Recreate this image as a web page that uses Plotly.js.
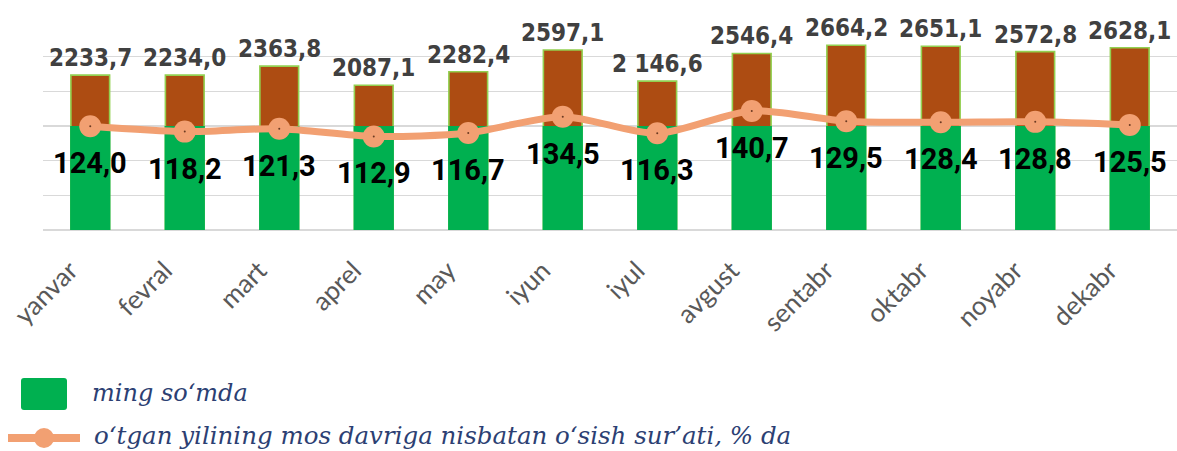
<!DOCTYPE html>
<html>
<head>
<meta charset="utf-8">
<script src="https://cdn.plot.ly/plotly-3.0.1.min.js"></script>
<style>
  html, body { margin: 0; padding: 0; background: #ffffff; }
  #chart { width: 1177px; height: 451px; }
</style>
</head>
<body>
<div id="chart"></div>
<script>
// ---- data ----
const months = ['yanvar', 'fevral', 'mart', 'aprel', 'may', 'iyun', 'iyul', 'avgust', 'sentabr', 'oktabr', 'noyabr', 'dekabr'];
const wageValues = [2233.7, 2234.0, 2363.8, 2087.1, 2282.4, 2597.1, 2146.6, 2546.4, 2664.2, 2651.1, 2572.8, 2628.1];
const wageLabels = ['2233,7', '2234,0', '2363,8', '2087,1', '2282,4', '2597,1', '2 146,6', '2546,4', '2664,2', '2651,1', '2572,8', '2628,1'];
const growthValues = [124.0, 118.2, 121.3, 112.9, 116.7, 134.5, 116.3, 140.7, 129.5, 128.4, 128.8, 125.5];
const growthLabels = ['124,0', '118,2', '121,3', '112,9', '116,7', '134,5', '116,3', '140,7', '129,5', '128,4', '128,8', '125,5'];
const seriesNames = ['ming so‘mda', 'o‘tgan yilining mos davriga nisbatan o‘sish sur’ati, % da'];

// ---- style ----
const GREEN = '#00B050';
const BROWN = '#AD4C12';
const OUTLINE = '#92D050';
const SALMON = '#F2A072';
const LEGEND_BLUE = '#2C3F73';
const fillSplit = 1500; // two-tone fill: green below this level, brown above
const barWidth = 0.41;

const traces = [
  {
    type: 'bar', x: months, y: wageValues, name: seriesNames[0],
    width: barWidth,
    marker: { color: BROWN, line: { color: OUTLINE, width: 1.6 } },
    hoverinfo: 'x+y', showlegend: false
  },
  {
    type: 'bar', x: months, y: wageValues.map(v => Math.min(v, fillSplit)),
    width: barWidth + 0.016,
    marker: { color: GREEN, line: { width: 0 } },
    hoverinfo: 'skip', showlegend: false
  },
  {
    type: 'scatter', mode: 'lines+markers', x: months, y: growthValues, yaxis: 'y2',
    name: seriesNames[1],
    line: { color: SALMON, width: 7, shape: 'spline', smoothing: 0.8 },
    marker: { color: SALMON, size: 22 },
    showlegend: false
  },
  {
    type: 'scatter', mode: 'markers', x: months, y: growthValues, yaxis: 'y2',
    marker: { color: '#6B3A22', size: 2 },
    hoverinfo: 'skip', showlegend: false
  }
];

const annotations = [];
months.forEach((m, i) => {
  annotations.push({
    x: m, y: wageValues[i], xref: 'x', yref: 'y',
    text: wageLabels[i], showarrow: false,
    yanchor: 'middle', yshift: 17,
    font: { family: 'DejaVu Sans Condensed', size: 24, color: '#404040', weight: 700 }
  });
  annotations.push({
    x: m, y: growthValues[i], xref: 'x', yref: 'y2',
    text: growthLabels[i], showarrow: false,
    yanchor: 'middle', yshift: -37,
    font: { family: 'Roboto', size: 29, color: '#000000', weight: 700 }
  });
});

// custom legend (text)
annotations.push({
  xref: 'paper', yref: 'paper', x: 0, y: 0, xanchor: 'left', yanchor: 'middle',
  xshift: 47, yshift: -163, showarrow: false, text: seriesNames[0],
  font: { family: 'DejaVu Serif', size: 24, color: LEGEND_BLUE, style: 'italic' }
});
annotations.push({
  xref: 'paper', yref: 'paper', x: 0, y: 0, xanchor: 'left', yanchor: 'middle',
  xshift: 49, yshift: -205, showarrow: false, text: seriesNames[1],
  font: { family: 'DejaVu Serif', size: 24.5, color: LEGEND_BLUE, style: 'italic' }
});

// custom legend (symbols), pixel offsets from the plot's bottom-left corner
const shapes = [
  { type: 'path', xref: 'paper', yref: 'paper', xsizemode: 'pixel', ysizemode: 'pixel',
    xanchor: 0, yanchor: 0,
    path: 'M -19 -180 L 21 -180 Q 24 -180 24 -177 L 24 -151 Q 24 -148 21 -148 L -19 -148 Q -22 -148 -22 -151 L -22 -177 Q -22 -180 -19 -180 Z',
    fillcolor: GREEN, line: { width: 0 } },
  { type: 'line', xref: 'paper', yref: 'paper', xsizemode: 'pixel', ysizemode: 'pixel',
    xanchor: 0, yanchor: 0, x0: -35, x1: 37, y0: -208, y1: -208,
    line: { color: SALMON, width: 8 } },
  { type: 'circle', xref: 'paper', yref: 'paper', xsizemode: 'pixel', ysizemode: 'pixel',
    xanchor: 0, yanchor: 0, x0: -9, x1: 11, y0: -218, y1: -198,
    fillcolor: SALMON, line: { width: 0 } }
];

const layout = {
  width: 1177, height: 451,
  margin: { l: 43, r: 0, t: 22, b: 221 },
  paper_bgcolor: '#ffffff', plot_bgcolor: '#ffffff',
  barmode: 'overlay',
  showlegend: false,
  xaxis: {
    type: 'category', range: [-0.5, 11.5],
    tickangle: -45, ticks: 'outside', ticklen: 14, tickcolor: 'rgba(0,0,0,0)',
    ticklabelshift: -20,
    showgrid: false, zeroline: false, showline: false,
    tickfont: { family: 'Lato', size: 26, color: '#595959' },
    fixedrange: true
  },
  yaxis: {
    range: [0, 3000], dtick: 500, showticklabels: false, ticks: '',
    showgrid: true, gridcolor: '#D9D9D9', gridwidth: 1.6,
    zeroline: true, zerolinecolor: '#D9D9D9', zerolinewidth: 2.2,
    showline: false, fixedrange: true
  },
  yaxis2: {
    overlaying: 'y', side: 'right', range: [11, 237.6],
    showticklabels: false, showgrid: false, zeroline: false, ticks: '', showline: false,
    fixedrange: true
  },
  annotations: annotations,
  shapes: shapes
};

Plotly.newPlot('chart', traces, layout, { displayModeBar: false, staticPlot: true });
</script>
</body>
</html>
